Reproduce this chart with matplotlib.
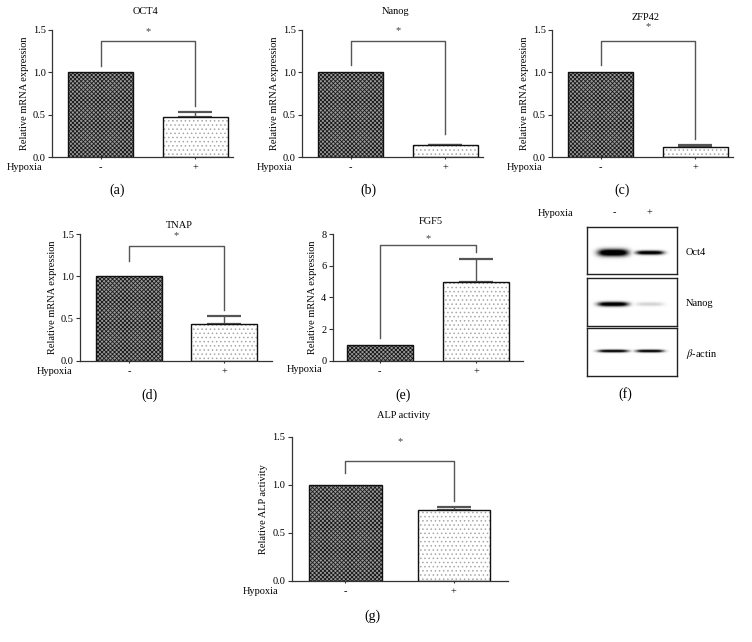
import numpy as np
import matplotlib
matplotlib.use("Agg")
import matplotlib.pyplot as plt

plt.rcParams['font.family'] = ['Liberation Serif', 'DejaVu Serif']
plt.rcParams['mathtext.fontset'] = 'stix'
plt.rcParams['hatch.linewidth'] = 0.6

# ---------------- data ----------------
genes = ['OCT4', 'Nanog', 'ZFP42', 'TNAP', 'FGF5']
normoxia_mean = [1.0, 1.0, 1.0, 1.0, 1.0]
hypoxia_mean = [0.47, 0.14, 0.12, 0.435, 4.95]
hypoxia_err = [0.06, 0.005, 0.02, 0.095, 1.47]
bracket_top = [1.37, 1.37, 1.37, 1.36, 7.3]
bracket_left_end = [1.08, 1.09, 1.09, 1.18, 1.45]
bracket_right_end = [0.60, 0.27, 0.21, 0.60, 6.84]
star_y = [1.48, 1.49, 1.54, 1.48, 7.68]
yticks_mrna = [[0, 0.5, 1.0, 1.5]] * 4 + [[0, 2, 4, 6, 8]]
ylims_mrna = [1.5, 1.5, 1.5, 1.5, 8]

alp_mean = [1.0, 0.74]
alp_err = [0.0, 0.03]
alp_bracket = (1.25, 1.125, 0.83)
alp_star_y = 1.45
alp_yticks = [0, 0.5, 1.0, 1.5]

hypoxia_labels = ['-', '+']

blot_proteins = ['Oct4', 'Nanog', r'$\beta$-actin']
blot_intensity = [[1.0, 0.92], [0.95, 0.13], [0.9, 0.9]]
blot_thickness = [[1.0, 0.55], [0.62, 0.55], [0.38, 0.38]]

panel_labels = ['(a)', '(b)', '(c)', '(d)', '(e)', '(f)', '(g)']

# ---------------- layout (pixels) ----------------
W, H = 752, 642
fig = plt.figure(figsize=(W / 100, H / 100), dpi=100)


def ax_px(l, t, r, b):
    return fig.add_axes([l / W, 1 - b / H, (r - l) / W, (b - t) / H])


def ftext(x, y, s, **kw):
    fig.text(x / W, 1 - y / H, s, **kw)


FS = 7.5
SPINE = '#333333'
GRAY = '#555555'

axes_px = [(52, 30, 233, 157.3), (302, 30, 483, 157.3), (552, 30, 733, 157.3),
           (80, 234, 271.7, 360.7), (332.7, 234, 523, 360.7)]
xlims = [(-0.513, 1.40), (-0.513, 1.40), (-0.513, 1.40), (-0.516, 1.50), (-0.49, 1.49)]
title_y = [12, 12, 18, 226, 222]
hyp_pos = [(42, 167), (292, 167), (542, 167), (72, 371), (322, 370)]
label_pos = [(117, 190), (368, 190), (622, 190), (150, 395), (403, 395)]


def style_axes(ax, ymax, yticks, fmt):
    for s in ['top', 'right']:
        ax.spines[s].set_visible(False)
    for s in ['left', 'bottom']:
        ax.spines[s].set_color(SPINE)
        ax.spines[s].set_linewidth(0.9)
    ax.set_ylim(0, ymax)
    ax.set_yticks(yticks)
    ax.set_yticklabels([fmt.format(v) for v in yticks])
    ax.tick_params(axis='y', direction='out', length=3, width=0.8, color=SPINE,
                   labelsize=FS, pad=1.5)
    ax.tick_params(axis='x', direction='out', length=1.5, width=0.8, color=SPINE,
                   labelsize=FS, pad=3)
    ax.set_xticks([0, 1])
    ax.set_xticklabels(hypoxia_labels)


def draw_bars(ax, means, errs, width):
    x = np.arange(2)
    # dark checker bar
    ax.bar(x[0], means[0], width, color='#9a9a9a', edgecolor='#1a1a1a',
           hatch='xxxxxxxx', linewidth=0, zorder=2)
    # light dotted bar
    ax.bar(x[1], means[1], width, color='white', edgecolor='#a8a8a8',
           hatch='....', linewidth=0, zorder=2)
    ax.bar(x, means, width, fill=False, edgecolor='#111111', linewidth=1.0, zorder=3)
    ax.errorbar(x[1], means[1], yerr=[[0], [errs[1]]], fmt='none', ecolor=GRAY,
                elinewidth=1.0, capsize=12, capthick=1.6, zorder=1)


def draw_bracket(ax, top, lend, rend, sy):
    ax.plot([0, 0, 1, 1], [lend, top, top, rend], color=GRAY, lw=1.0,
            clip_on=False, zorder=1)
    ax.text(0.5, sy, '*', ha='center', va='center', fontsize=FS, color='#444444',
            clip_on=False)


for i, g in enumerate(genes):
    ax = ax_px(*axes_px[i])
    ax.set_xlim(*xlims[i])
    fmt = '{:.1f}' if ylims_mrna[i] < 5 else '{:.0f}'
    style_axes(ax, ylims_mrna[i], yticks_mrna[i], fmt)
    draw_bars(ax, [normoxia_mean[i], hypoxia_mean[i]], [0, hypoxia_err[i]], 0.69)
    draw_bracket(ax, bracket_top[i], bracket_left_end[i], bracket_right_end[i], star_y[i])
    ax.set_ylabel('Relative mRNA expression', fontsize=FS, labelpad=3)
    l, t, r, b = axes_px[i]
    ftext((l + r) / 2 + 3, title_y[i], g, ha='center', va='center', fontsize=FS)
    ftext(hyp_pos[i][0], hyp_pos[i][1], 'Hypoxia', ha='right', va='center', fontsize=FS)
    ftext(label_pos[i][0], label_pos[i][1], panel_labels[i], ha='center', va='center',
          fontsize=10)

# ---------------- ALP panel (g) ----------------
gpx = (291.7, 436.7, 508, 580.7)
axg = ax_px(*gpx)
axg.set_xlim(-0.496, 1.50)
style_axes(axg, 1.5, alp_yticks, '{:.1f}')
draw_bars(axg, alp_mean, alp_err, 0.67)
draw_bracket(axg, alp_bracket[0], alp_bracket[1], alp_bracket[2], alp_star_y)
axg.set_ylabel('Relative ALP activity', fontsize=FS, labelpad=3)
ftext(404, 416, 'ALP activity', ha='center', va='center', fontsize=FS)
ftext(278, 592, 'Hypoxia', ha='right', va='center', fontsize=FS)
ftext(372, 616, panel_labels[6], ha='center', va='center', fontsize=10)

# ---------------- Western blot (f) ----------------
boxes = [(586.7, 226.7, 676.7, 274), (586.7, 278, 676.7, 325.7), (586.7, 328, 676.7, 376)]
band_y = [253, 304, 351]
lane_x = [0.29, 0.70]
lane_hw = [0.17, 0.155]
for k, prot in enumerate(blot_proteins):
    l, t, r, b = boxes[k]
    axb = ax_px(l, t, r, b)
    nx, ny = 180, 96
    xx = np.linspace(0, 1, nx)[None, :]
    yy = np.linspace(0, 1, ny)[:, None]
    yc = (band_y[k] - t) / (b - t)
    img = np.zeros((ny, nx))
    for j in range(2):
        inten = blot_intensity[k][j]
        th = 0.075 * blot_thickness[k][j]
        prof_x = np.exp(-np.abs((xx - lane_x[j]) / lane_hw[j]) ** 4)
        prof_y = np.exp(-((yy - yc) / th) ** 2)
        img = np.maximum(img, inten * prof_x * prof_y * 1.4)
    img = np.clip(img, 0, 1)
    axb.imshow(img, cmap='gray_r', vmin=0, vmax=1, extent=(0, 1, 1, 0),
               aspect='auto', interpolation='bilinear')
    axb.set_xlim(0, 1)
    axb.set_ylim(1, 0)
    axb.set_xticks([])
    axb.set_yticks([])
    for s in axb.spines.values():
        s.set_linewidth(1.0)
        s.set_color('#222222')
    ftext(685.7, (t + b) / 2 + 2, prot, ha='left', va='center', fontsize=FS)

ftext(573, 214, 'Hypoxia', ha='right', va='center', fontsize=FS)
ftext(614, 213, hypoxia_labels[0], ha='center', va='center', fontsize=FS)
ftext(649, 213, hypoxia_labels[1], ha='center', va='center', fontsize=FS)
ftext(625, 394, panel_labels[5], ha='center', va='center', fontsize=10)

fig.savefig('out.png', dpi=100)
